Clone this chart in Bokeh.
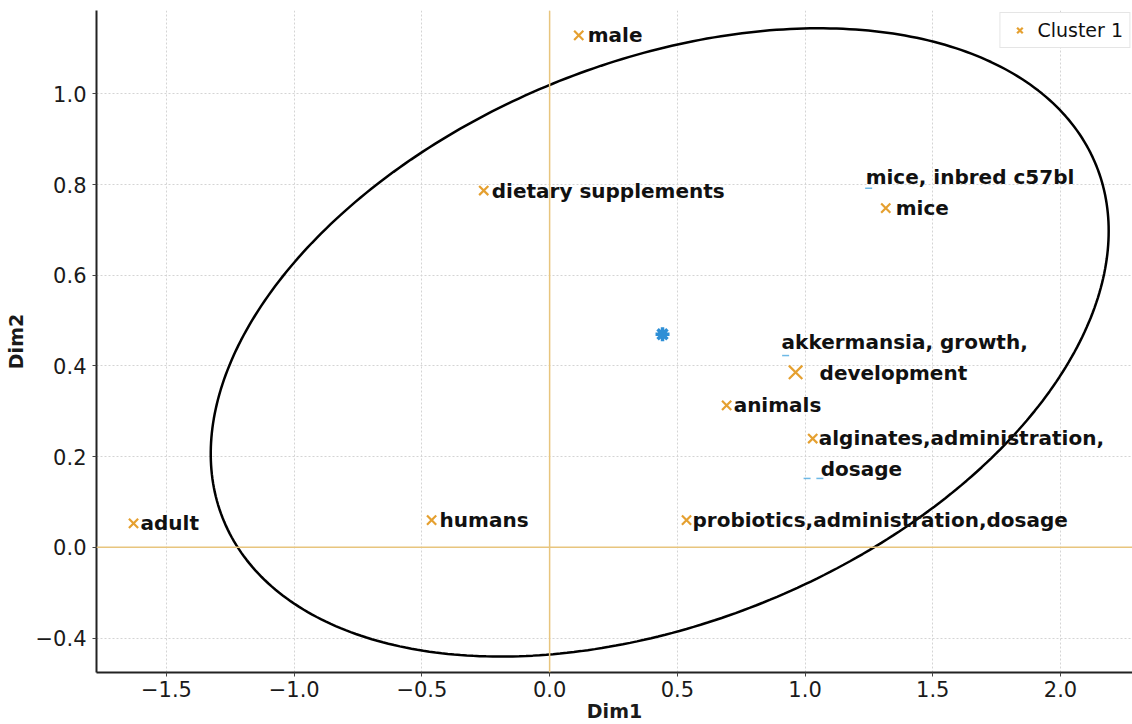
import numpy as np
from bokeh.plotting import figure
from bokeh.models import ColumnDataSource, Span, FixedTicker, CustomJSTickFormatter, Range1d
from bokeh.core.properties import value
from bokeh.embed import file_html
from bokeh.resources import INLINE

# ---- data ----
names = ["male", "dietary supplements", "mice", "akkermansia, growth, development",
         "animals", "alginates,administration, dosage", "probiotics,administration,dosage",
         "humans", "adult"]
dim1 = [0.114, -0.258, 1.316, 0.963, 0.693, 1.030, 0.536, -0.462, -1.629]
dim2 = [1.129, 0.787, 0.748, 0.386, 0.313, 0.240, 0.060, 0.060, 0.053]
marker_size = [13, 13, 13, 19, 13, 13, 13, 13, 13]

# faint points of other terms (barely visible in the reference)
faint_names = ["mice, inbred c57bl", "akkermansia", "dosage a", "dosage b"]
faint_dim1 = [1.249, 0.924, 1.008, 1.058]
faint_dim2 = [0.792, 0.423, 0.152, 0.152]

centroid_dim1 = [0.442]
centroid_dim2 = [0.470]

# label lines: text, index of anchor (p = cluster point, f = faint point), pixel offsets
label_text = ["male", "dietary supplements", "mice", "mice, inbred c57bl",
              "akkermansia, growth,", "development", "animals",
              "alginates,administration,", "dosage",
              "probiotics,administration,dosage", "humans", "adult"]
label_anchor = [("p", 0), ("p", 1), ("p", 2), ("f", 0), ("p", 3), ("p", 3), ("p", 4),
                ("p", 5), ("p", 5), ("p", 6), ("p", 7), ("p", 8)]
label_dx = [9, 8, 10, -3, -14, 24, 7, 6, 8, 6, 8, 7]
label_dy = [0, 0, 0, -11, -30, 1, 0, -1, 30, 0, 0, 0]

x_ticks = [-1.5, -1.0, -0.5, 0.0, 0.5, 1.0, 1.5, 2.0]
x_tick_labels = ["\u22121.5", "\u22121.0", "\u22120.5", "0.0", "0.5", "1.0", "1.5", "2.0"]
y_ticks = [-0.2, 0.0, 0.2, 0.4, 0.6, 0.8, 1.0]
y_tick_labels = ["\u22120.4", "0.0", "0.2", "0.4", "0.6", "0.8", "1.0"]

# confidence ellipse parameters (centre in data units, semi-axes in reference pixels)
ell_center = (0.431, 0.452)
ell_a_px, ell_b_px, ell_angle_deg = 471.0, 280.0, 22.1
ref_px_per_unit = (255.4, 453.5)

# ---- figure ----
ORANGE = "#E5A030"
p = figure(width=1132, height=724, output_backend="svg", toolbar_location=None,
           x_range=Range1d(-1.774, 2.282), y_range=Range1d(-0.276, 1.184),
           min_border_left=96, min_border_right=0, min_border_top=10, min_border_bottom=52)
p.outline_line_color = None
p.background_fill_color = "white"
p.border_fill_color = "white"

for ax, ticks, labs in ((p.xaxis[0], x_ticks, x_tick_labels), (p.yaxis[0], y_ticks, y_tick_labels)):
    ax.ticker = FixedTicker(ticks=ticks)
    ax.formatter = CustomJSTickFormatter(args=dict(vals=ticks, labs=labs), code="""
        for (let i = 0; i < vals.length; i++) { if (Math.abs(vals[i] - tick) < 1e-6) return labs[i]; }
        return tick.toFixed(1);
    """)
    ax.major_label_text_font = "DejaVu Sans"
    ax.major_label_text_font_size = "21px"
    ax.major_label_text_color = "#1a1a1a"
    ax.axis_label_text_font = "DejaVu Sans"
    ax.axis_label_text_font_style = "bold"
    ax.axis_label_text_font_size = "19px"
    ax.axis_label_text_color = "#1a1a1a"
    ax.axis_line_width = 2
    ax.axis_line_color = "#222222"
    ax.major_tick_in = 0
    ax.major_tick_out = 4
    ax.major_tick_line_color = "#444444"
    ax.minor_tick_line_color = None
    ax.major_label_standoff = 6
    ax.axis_label_standoff = 6

p.xaxis.axis_label = "Dim1"
p.yaxis.axis_label = "Dim2"
p.xaxis.axis_label_standoff = 0
p.xaxis.major_label_standoff = 4

p.grid.grid_line_color = "#d4d4d4"
p.grid.grid_line_dash = "2 2"
p.grid.grid_line_width = 1

p.add_layout(Span(location=0, dimension="height", line_color="#E8C57E", line_width=1.5))
p.add_layout(Span(location=0, dimension="width", line_color="#E8C57E", line_width=1.5))

# ellipse
t = np.linspace(0, 2 * np.pi, 400)
th = np.deg2rad(ell_angle_deg)
ex = ell_center[0] + (ell_a_px * np.cos(t) * np.cos(th) - ell_b_px * np.sin(t) * np.sin(th)) / ref_px_per_unit[0]
ey = ell_center[1] + (ell_a_px * np.cos(t) * np.sin(th) + ell_b_px * np.sin(t) * np.cos(th)) / ref_px_per_unit[1]
p.line(ex, ey, line_color="black", line_width=2.5)

# faint marks
p.scatter(faint_dim1, faint_dim2, marker="dash", size=7, line_width=1.5,
          line_color="#4AA8E0", alpha=0.8)

# cluster points
src = ColumnDataSource(dict(x=dim1, y=dim2, size=marker_size, name=names))
p.scatter("x", "y", source=src, marker="x", size="size", line_width=2.2,
          line_color=ORANGE, legend_label="Cluster 1")

# centroid
p.scatter(centroid_dim1, centroid_dim2, marker="asterisk", size=14, line_width=3.5,
          line_color="#2E8FD6")

# labels
lx, ly = [], []
for kind, i in label_anchor:
    if kind == "p":
        lx.append(dim1[i]); ly.append(dim2[i])
    else:
        lx.append(faint_dim1[i]); ly.append(faint_dim2[i])
lsrc = ColumnDataSource(dict(x=lx, y=ly, text=label_text, dx=label_dx, dy=label_dy))
p.text("x", "y", text="text", source=lsrc, x_offset="dx", y_offset="dy",
       text_font=value("DejaVu Sans"), text_font_style="bold", text_font_size="20px",
       text_align="left", text_baseline="middle", text_color="#111111")

p.legend.location = "top_right"
p.legend.label_text_font = "DejaVu Sans"
p.legend.label_text_font_size = "19px"
p.legend.label_text_color = "#111111"
p.legend.border_line_color = "#cccccc"
p.legend.border_line_width = 1
p.legend.margin = 2
p.legend.padding = 6
p.legend.glyph_width = 26
p.legend.background_fill_alpha = 1.0

open("out.html", "w").write(file_html(p, INLINE))
